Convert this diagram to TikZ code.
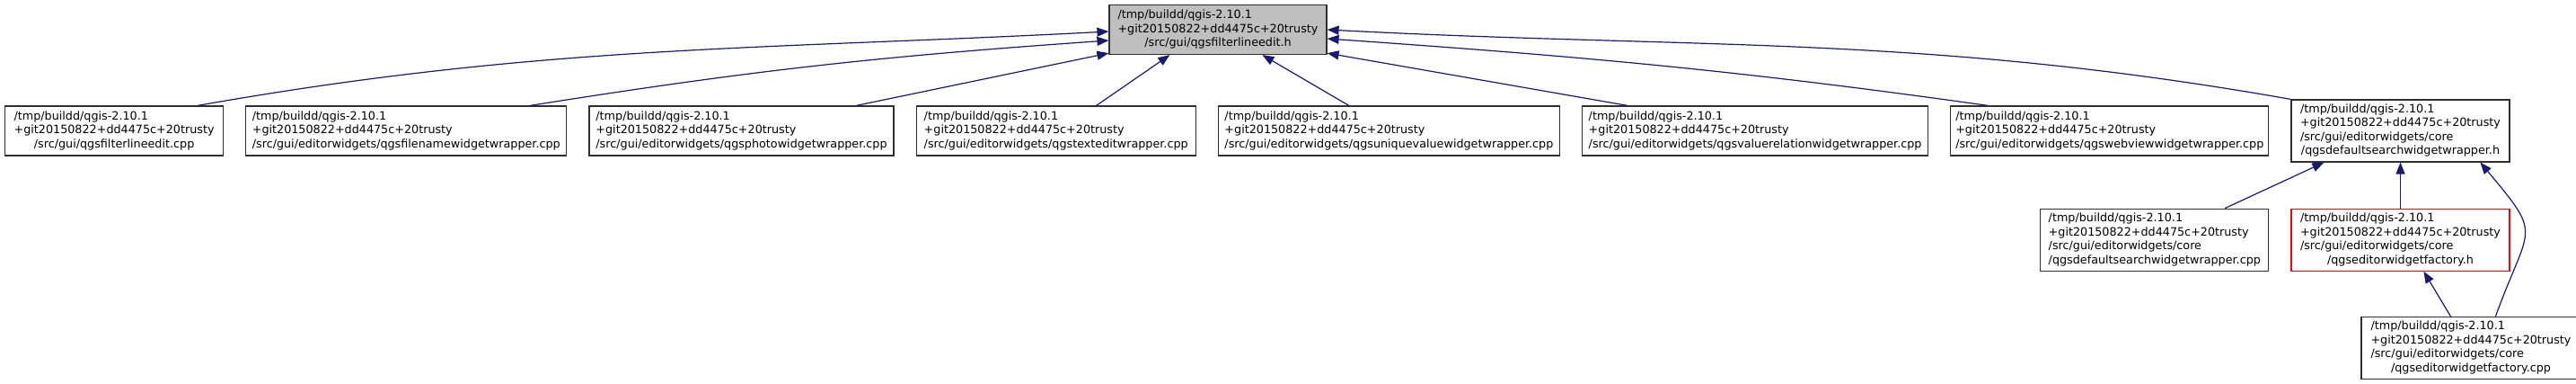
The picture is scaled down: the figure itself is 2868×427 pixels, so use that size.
\documentclass[tikz,border=0pt]{standalone}
\usepackage{fontspec}
\setmainfont{DejaVu Sans}
\usetikzlibrary{positioning, arrows.meta}

\definecolor{edgeblue}{HTML}{191970}
\definecolor{framegray}{HTML}{303030}
\definecolor{headfill}{HTML}{BFBFBF}

% label of one file: two fixed lines, then the rest (last line centred)
\newcommand{\fpath}[2]{%
  \begin{tabular}{@{}l@{}}
  /tmp/buildd/qgis-2.10.1\\
  +git20150822+dd4475c+20trusty\\
  #1\multicolumn{1}{@{}c@{}}{#2}
  \end{tabular}}

\begin{document}
\begin{tikzpicture}[
    x=1pt, y=1pt,
    % Define the style for the file boxes
    filenode/.style={
        rectangle,
        draw=framegray,
        line width=1.2pt,
        inner sep=0pt,
        minimum height=55pt,
        font=\fontsize{12.75}{15.5}\selectfont
    },
    tall/.style={
        minimum height=69pt
    },
    % Define the style for the include arrows
    incl/.style={
        draw=edgeblue,
        line width=1.2pt,
        -{Triangle[length=13pt, width=10pt]}
    }
]
\useasboundingbox (0,0) rectangle (2868,-427);

    % Place the nodes (boxes)
    \node [filenode, fill=headfill, minimum width=242pt] (hdr) at (1356,-33)
        {\fpath{}{/src/gui/qgsfilterlineedit.h}};

    \node [filenode, minimum width=243pt, anchor=west] (fle) at (5,-145.5)
        {\fpath{}{/src/gui/qgsfilterlineedit.cpp}};
    \node [filenode, minimum width=357pt, right=24pt of fle] (fnw)
        {\fpath{}{/src/gui/editorwidgets/qgsfilenamewidgetwrapper.cpp}};
    \node [filenode, minimum width=339pt, right=24pt of fnw] (pho)
        {\fpath{}{/src/gui/editorwidgets/qgsphotowidgetwrapper.cpp}};
    \node [filenode, minimum width=311pt, right=24pt of pho] (txt)
        {\fpath{}{/src/gui/editorwidgets/qgstexteditwrapper.cpp}};
    \node [filenode, minimum width=380pt, right=24pt of txt] (uni)
        {\fpath{}{/src/gui/editorwidgets/qgsuniquevaluewidgetwrapper.cpp}};
    \node [filenode, minimum width=385pt, right=24pt of uni] (vrel)
        {\fpath{}{/src/gui/editorwidgets/qgsvaluerelationwidgetwrapper.cpp}};
    \node [filenode, minimum width=354pt, right=24pt of vrel] (web)
        {\fpath{}{/src/gui/editorwidgets/qgswebviewwidgetwrapper.cpp}};
    \node [filenode, tall, minimum width=243pt, right=24pt of web] (dsh)
        {\fpath{/src/gui/editorwidgets/core\\}{/qgsdefaultsearchwidgetwrapper.h}};

    \node [filenode, tall, minimum width=243pt, draw=red, below=51pt of dsh] (efh)
        {\fpath{/src/gui/editorwidgets/core\\}{/qgseditorwidgetfactory.h}};
    \node [filenode, tall, minimum width=254pt, left=24pt of efh] (dsc)
        {\fpath{/src/gui/editorwidgets/core\\}{/qgsdefaultsearchwidgetwrapper.cpp}};
    \node [filenode, tall, minimum width=244pt, below=50pt of efh, xshift=78.5pt] (efc)
        {\fpath{/src/gui/editorwidgets/core\\}{/qgseditorwidgetfactory.cpp}};

    % Draw the arrows
    \path [incl] ([xshift=215pt]fle.north west) .. controls +(10:390) and +(183:390) .. ([yshift=-2pt]hdr.west);
    \path [incl] ([xshift=317pt]fnw.north west) .. controls +(9:255) and +(184:255) .. ([yshift=-12pt]hdr.west);
    \path [incl] ([xshift=298pt]pho.north west) -- ([yshift=2pt]hdr.south west);
    \path [incl] ([xshift=201pt]txt.north west) -- ([xshift=68pt]hdr.south west);
    \path [incl] ([xshift=146pt]uni.north west) -- ([xshift=171pt]hdr.south west);
    \path [incl] ([xshift=51pt]vrel.north west) -- ([yshift=2pt]hdr.south east);
    \path [incl] ([xshift=42pt]web.north west) .. controls +(172:285) and +(-4:285) .. ([yshift=-10pt]hdr.east);
    \path [incl] (dsh.north west) .. controls +(170:415) and +(-3:415) .. (hdr.east);

    \path [incl] ([xshift=206pt]dsc.north west) -- ([xshift=37pt]dsh.south west);
    \path [incl] (efh.north) -- (dsh.south);
    \path [incl] ([xshift=100pt]efc.north west) -- ([xshift=148pt]efh.south west);
    \path [incl] ([xshift=150pt]efc.north west) .. controls +(70:110) and +(-50:110) .. ([xshift=211pt]dsh.south west);

\end{tikzpicture}
\end{document}
